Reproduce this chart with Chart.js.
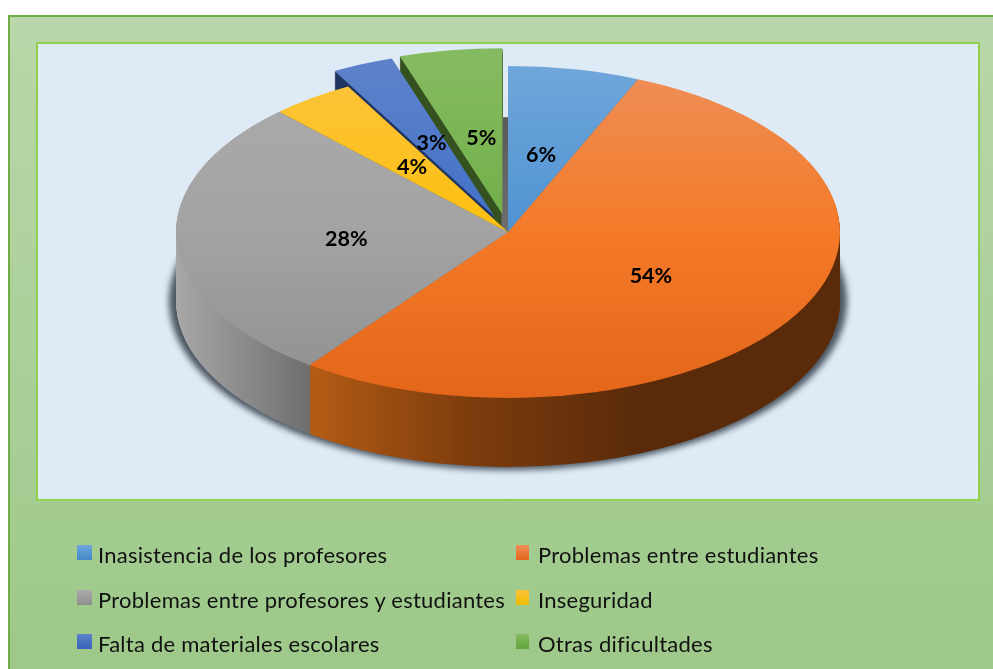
<!DOCTYPE html>
<html lang="es">
<head>
<meta charset="utf-8">
<title>Dificultades</title>
<script src="https://cdn.jsdelivr.net/npm/chart.js@4"></script>
<style>
html,body{margin:0;padding:0;background:#fff;width:993px;height:669px;overflow:hidden}
#panel{position:absolute;left:8px;top:15px;width:1000px;height:680px;box-sizing:border-box;border:2px solid #70ad47;background:linear-gradient(#b9d7aa,#9ec98a 94%)}
#plot{position:absolute;left:36px;top:42px;width:944px;height:459px;box-sizing:border-box;border:2px solid #92d050;background:#deeaf6}
#c{position:absolute;left:0;top:0}
.sw{position:absolute;height:15px}
.lb{position:absolute;font:22px/26px Lato,sans-serif;letter-spacing:.25px;color:#111;white-space:nowrap}
</style>
</head>
<body>
<div id="panel"></div>
<div id="plot"></div>
<canvas id="c" width="993" height="669"></canvas>
<div id="legend"></div>
<script>
const categories = ["Inasistencia de los profesores","Problemas entre estudiantes","Problemas entre profesores y estudiantes","Inseguridad","Falta de materiales escolares","Otras dificultades"];
const values = [6.4,53.8,27.7,4.1,3,5];
const explode = [0,0,0,0,34,36];
const labelNudge = [[0,1],[-1,0],[4,-1],[2,-1],[3,0],[5,3]];
const topLight = ["#6fa6da","#ee8f58","#ababab","#fcc33c","#5d82ca","#84ba60"];
const topMid   = ["#4f93d2","#f47a28","#a3a3a3","#fdc00f","#4070c8","#6fae46"];
const topDark  = ["#4488c8","#e3661a","#8f8f8f","#eebb00","#3763ba","#62a43c"];
const wallStops = [
  [[0,"#3a6a96"],[1,"#3a6a96"]],
  [[0,"#b45c14"],[0.3,"#7d3c0d"],[0.62,"#5a2b0b"],[1,"#5a2b0b"]],
  [[0,"#a8a8a8"],[1,"#6e6e6e"]],
  [[0,"#8a6a00"],[1,"#8a6a00"]],
  [[0,"#1f3460"],[1,"#1f3460"]],
  [[0,"#34511f"],[1,"#34511f"]]
];
const wallRange = [[508,640],[310,840],[176,310],[278,348],[330,400],[400,505]];
const drawOrder = [0,5,4,3,2,1];

const CENTER_Y = 232, SQUASH = 0.5, DEPTH = 69, RADIUS = 332;

let pieCx = 0, pieCy = 0;
function squash(ctx){
  ctx.translate(pieCx, CENTER_Y);
  ctx.scale(1, SQUASH);
  ctx.translate(-pieCx, -pieCy);
}
function midAngle(a){ return (a.startAngle + a.endAngle) / 2; }

const pie3d = {
  id: 'pie3d',
  beforeDatasetsDraw(chart){
    const ctx = chart.ctx, arcs = chart.getDatasetMeta(0).data, area = chart.chartArea;
    pieCx = (area.left + area.right) / 2;
    pieCy = (area.top + area.bottom) / 2;
    // pull exploded slices out along their bisector
    arcs.forEach((a, i) => {
      const m = midAngle(a);
      a.x = pieCx + Math.cos(m) * explode[i];
      a.y = pieCy + Math.sin(m) * explode[i];
    });
    // soft shadow under the disc
    ctx.save();
    ctx.filter = 'blur(3px)';
    ctx.fillStyle = '#4a5560';
    ctx.beginPath();
    ctx.ellipse(pieCx, CENTER_Y + DEPTH, RADIUS + 7, RADIUS * SQUASH + 3, 0, 0, Math.PI * 2);
    ctx.fill();
    ctx.restore();
    // extruded walls
    drawOrder.forEach(i => {
      const a = arcs[i], r = wallRange[i];
      const g = ctx.createLinearGradient(r[0], 0, r[1], 0);
      wallStops[i].forEach(st => g.addColorStop(st[0], st[1]));
      for (let d = DEPTH; d >= 1; d--) {
        ctx.save();
        ctx.translate(0, d);
        squash(ctx);
        ctx.fillStyle = g;
        ctx.beginPath();
        ctx.moveTo(a.x, a.y);
        ctx.arc(a.x, a.y, a.outerRadius, a.startAngle, a.endAngle);
        ctx.closePath();
        ctx.fill();
        ctx.restore();
      }
    });
    // gap between the last exploded slice and the first slice
    const last = arcs[arcs.length - 1];
    const gapTop = CENTER_Y + (last.y - pieCy - RADIUS) * SQUASH + DEPTH;
    const gg = ctx.createLinearGradient(0, gapTop, 0, CENTER_Y);
    gg.addColorStop(0, '#5a5a5a'); gg.addColorStop(1, '#6e6e6e');
    ctx.fillStyle = gg;
    ctx.fillRect(last.x - 1, gapTop, pieCx - last.x + 1, CENTER_Y - gapTop);
    // flatten the library's own arcs into an ellipse
    ctx.save();
    squash(ctx);
  },
  afterDatasetsDraw(chart){
    const ctx = chart.ctx, arcs = chart.getDatasetMeta(0).data;
    ctx.restore();
    ctx.save();
    ctx.font = 'bold 21.5px Lato, sans-serif';
    ctx.fillStyle = '#000';
    ctx.textAlign = 'center';
    ctx.textBaseline = 'middle';
    arcs.forEach((a, i) => {
      const m = midAngle(a), r = a.outerRadius * 0.5;
      const x = a.x + Math.cos(m) * r + labelNudge[i][0];
      const y = CENTER_Y + (a.y - pieCy + Math.sin(m) * r) * SQUASH + 3 + labelNudge[i][1];
      ctx.fillText(Math.round(values[i]) + '%', x, y);
    });
    ctx.restore();
  }
};

new Chart(document.getElementById('c'), {
  type: 'pie',
  data: {
    labels: categories,
    datasets: [{
      data: values,
      borderWidth: 0,
      hoverOffset: 0,
      backgroundColor(c){
        const chart = c.chart, area = chart.chartArea;
        if (!area) return topMid[c.dataIndex];
        const cy = (area.top + area.bottom) / 2, i = c.dataIndex;
        const g = chart.ctx.createLinearGradient(0, cy - RADIUS, 0, cy + RADIUS);
        g.addColorStop(0, topLight[i]);
        g.addColorStop(0.5, topMid[i]);
        g.addColorStop(1, topDark[i]);
        return g;
      }
    }]
  },
  options: {
    responsive: false,
    animation: false,
    radius: RADIUS,
    rotation: 0,
    layout: {padding: {left: 23, right: 0, top: 0, bottom: 0}},
    events: [],
    plugins: {legend: {display: false}, tooltip: {enabled: false}},
  },
  plugins: [pie3d]
});

// two-column legend
const legend = document.getElementById('legend');
const colX = [[77,15,98],[516,13,538]], rowY = [545,590,634];
categories.forEach((name, i) => {
  const col = colX[i % 2], y = rowY[Math.floor(i / 2)];
  const sw = document.createElement('div');
  sw.className = 'sw';
  sw.style.cssText = `left:${col[0]}px;top:${y}px;width:${col[1]}px;background:linear-gradient(${topLight[i]},${topDark[i]})`;
  const lb = document.createElement('div');
  lb.className = 'lb';
  lb.textContent = name;
  lb.style.cssText = `left:${col[2]}px;top:${y - 3}px`;
  legend.append(sw, lb);
});
</script>
</body>
</html>
